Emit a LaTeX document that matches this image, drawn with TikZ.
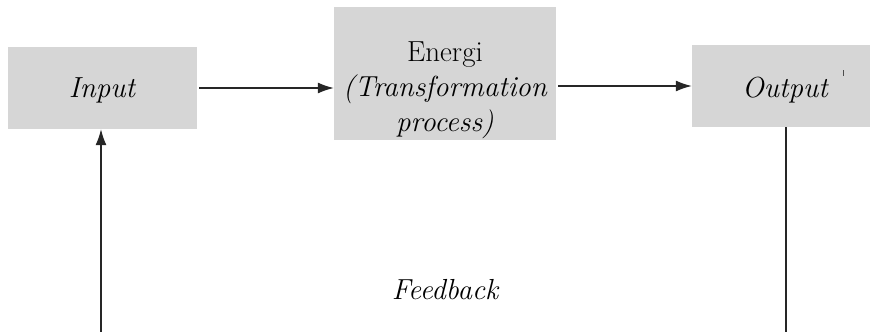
\documentclass[tikz,border=0pt]{standalone}
\usetikzlibrary{arrows.meta}

\tikzset{
  block/.style={fill=black!16, draw=none, inner sep=0pt},
  label/.style={font=\fontsize{29}{35}\selectfont\itshape, inner sep=0pt},
  link/.style={draw=black!85, line width=1.3pt},
  arr/.style={link, -{Latex[length=16pt,width=11pt]}}
}

\begin{document}
\begin{tikzpicture}[x=1pt, y=-1pt]
  \useasboundingbox (0,0) rectangle (871,332);

  % process blocks
  \node[block, minimum width=189pt, minimum height=82pt] (input) at (102.5,88) {};
  \node[block, minimum width=222pt, minimum height=133pt] (energi) at (445,73.5) {};
  \node[block, minimum width=178pt, minimum height=82pt] (output) at (781,86) {};

  % block captions
  \node[label, anchor=base] (inputtxt) at (102,97) {Input};
  \node[label, anchor=base, align=center] (energitxt) at (445,131)
       {{\upshape Energi}\\(Transformation\\process)};
  \node[label, anchor=base] (outputtxt) at (785,97) {Output};
  \node[inner sep=0pt] (tick) at (843.5,74) {};
  \draw[black!70, line width=0.8pt] (tick.north) ++(0,-3) -- ++(0,6);

  % forward flow
  \draw[arr] ([xshift=2pt]input.east) -- (input.east -| energi.west);
  \draw[arr] ([xshift=2pt]energi.east |- output.west) -- (output.west);

  % feedback loop
  \coordinate (fbR) at (786,333);
  \coordinate (fbL) at (101,333);
  \draw[link, line width=1.6pt] (output.south -| fbR) -- (fbR);
  \draw[arr] (fbL) -- (fbL |- input.south);
  \node[label, anchor=base] (feedback) at (445,299) {Feedback};
\end{tikzpicture}
\end{document}
